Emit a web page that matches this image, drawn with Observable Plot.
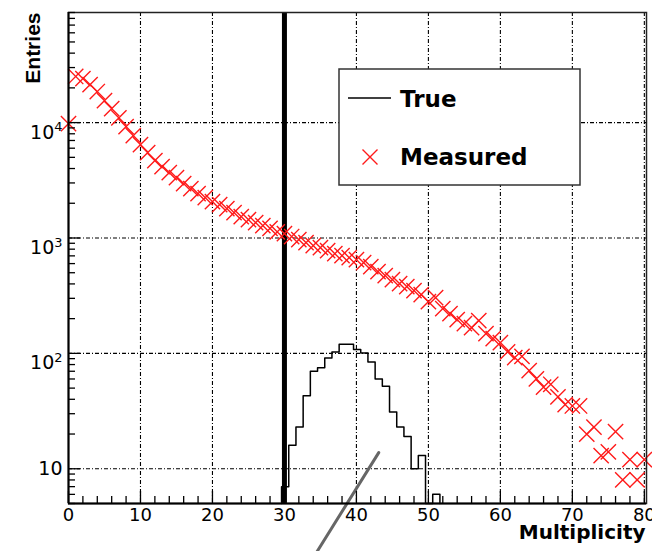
<!DOCTYPE html>
<html>
<head>
<meta charset="utf-8">
<script src="https://cdn.jsdelivr.net/npm/d3@7"></script>
<script src="https://cdn.jsdelivr.net/npm/@observablehq/plot@0.6"></script>
<style>
  html, body { margin: 0; padding: 0; background: #fff; }
  #chart { position: relative; width: 652px; height: 551px; }
</style>
</head>
<body>
<div id="chart"></div>
<script>
// ---- Measured distribution (red crosses) ----
const measuredX = [
  0, 1, 2, 3, 4, 5, 6, 7, 8, 9,
  10, 11, 12, 13, 14, 15, 16, 17, 18, 19,
  20, 21, 22, 23, 24, 25, 26, 27, 28, 29,
  30, 31, 32, 33, 34, 35, 36, 37, 38, 39,
  40, 41, 42, 43, 44, 45, 46, 47, 48, 49,
  50, 51, 52, 53, 54, 55, 56, 57, 58, 59,
  60, 61, 62, 63, 64, 65, 66, 67, 68, 69,
  70, 71, 72, 73, 74, 75, 76, 77, 78, 79, 80
];
const measuredY = [
  9800, 25100, 24100, 21300, 18600, 15500, 13200, 11000, 9230, 7710,
  6440, 5490, 4680, 4150, 3680, 3330, 2960, 2680, 2420, 2240,
  2070, 1950, 1800, 1660, 1530, 1440, 1360, 1280, 1210, 1130,
  1090, 1030, 968, 912, 858, 824, 776, 731, 703, 675,
  649, 611, 564, 511, 471, 435, 402, 379, 350, 323,
  281, 304, 244, 221, 196, 181, 167, 192, 148, 134,
  124, 103, 92, 94, 71, 60, 51, 54, 42, 36,
  35, 35, 20, 23, 13, 14, 21, 8, 12, 8, 12
];

// ---- True distribution (black histogram) ----
const trueBinLow = [
  29.6, 30.6, 31.6, 32.6, 33.6, 34.6, 35.6, 36.6, 37.6, 38.6, 39.6,
  40.6, 41.6, 42.6, 43.6, 44.6, 45.6, 46.6, 47.6, 48.6, 49.6, 50.6
];
const trueCounts = [
  7, 16, 23, 43, 70, 75, 91, 103, 120, 120, 108,
  101, 84, 60, 52, 31, 23, 19, 10, 13, 0, 6
];
const trueSpike = [30];   // the off-scale bin at multiplicity 30

// ---- annotation pointer (grey stroke at the bottom) ----
const pointerX = [34.5, 43.1];
const pointerY = [1.9, 13.8];

// ---- axes ----
const xTicks = [0, 10, 20, 30, 40, 50, 60, 70, 80];
const xGridTicks = [10, 20, 30, 40, 50, 60, 70, 80];
const xMinorTicks = [2, 4, 6, 8, 12, 14, 16, 18, 22, 24, 26, 28, 32, 34, 36, 38,
  42, 44, 46, 48, 52, 54, 56, 58, 62, 64, 66, 68, 72, 74, 76, 78];
const yTicks = [10, 100, 1000, 10000];
const yTickLabels = ["10", "10^2", "10^3", "10^4"];
const yMinorTicks = [5, 6, 7, 8, 9,
  20, 30, 40, 50, 60, 70, 80, 90,
  200, 300, 400, 500, 600, 700, 800, 900,
  2000, 3000, 4000, 5000, 6000, 7000, 8000, 9000,
  20000, 30000, 40000, 50000, 60000, 70000, 80000, 90000];
const xLabel = "Multiplicity";
const yLabel = "Entries";
const legendLabels = ["True", "Measured"];

// ---- build tables ----
const measured = measuredX.map((x, i) => ({x, y: measuredY[i]}));
const yMin = 5;
const trueOutline = [{x: trueBinLow[0], y: yMin}];
trueBinLow.forEach((lo, i) => {
  const v = Math.max(trueCounts[i], yMin);
  trueOutline.push({x: lo, y: v}, {x: lo + 1, y: v});
});
trueOutline.push({x: trueBinLow[trueBinLow.length - 1] + 1, y: yMin});
const pointer = pointerX.map((x, i) => ({x, y: pointerY[i]}));

const dash = "4,2,1,2";
const FONT = "DejaVu Sans";
const RED = "#ff1a1a";
const noText = () => "";

const chart = Plot.plot({
  width: 652,
  height: 551,
  marginLeft: 68,
  marginRight: 6,
  marginTop: 12,
  marginBottom: 48,
  x: {domain: [0, 80.3], label: null},
  y: {type: "log", domain: [yMin, 90000], label: null},
  style: {fontFamily: FONT, fontSize: "19px", color: "black", background: "white"},
  marks: [
    Plot.gridX(xGridTicks, {stroke: "black", strokeOpacity: 1, strokeWidth: 1.1, strokeDasharray: dash}),
    Plot.gridY(yTicks, {stroke: "black", strokeOpacity: 1, strokeWidth: 1.1, strokeDasharray: dash}),
    Plot.line(trueOutline, {x: "x", y: "y", stroke: "black", strokeWidth: 1.5}),
    Plot.ruleX(trueSpike, {stroke: "black", strokeWidth: 5}),
    Plot.dot(measured, {x: "x", y: "y", symbol: "times", r: 7, stroke: RED, strokeWidth: 1.4}),
    Plot.line(pointer, {x: "x", y: "y", stroke: "#666", strokeWidth: 3}),
    Plot.frame({stroke: "#222", strokeWidth: 1.5}),
    Plot.ruleX([0], {stroke: "black", strokeWidth: 2}),
    Plot.ruleY([yMin], {stroke: "black", strokeWidth: 2}),
    Plot.axisX(xMinorTicks, {anchor: "bottom", tickSize: -7, tickFormat: noText, strokeWidth: 1.3, label: null}),
    Plot.axisX(xTicks, {anchor: "bottom", tickSize: -12, tickFormat: noText, strokeWidth: 1.3, label: null}),
    Plot.axisX(xTicks, {anchor: "bottom", tickSize: 0, tickPadding: 5, fontSize: 18, fontFamily: FONT, label: null}),
    Plot.axisY(yMinorTicks, {anchor: "left", tickSize: -7, tickFormat: noText, strokeWidth: 1.3, label: null}),
    Plot.axisY(yTicks, {anchor: "left", tickSize: -12, tickFormat: noText, strokeWidth: 1.3, label: null}),
    Plot.axisY(yTicks, {anchor: "left", tickSize: 0, tickPadding: 6, fontSize: 19, fontFamily: FONT, label: null,
      tickFormat: d => yTickLabels[yTicks.indexOf(d)]}),
    Plot.text([yLabel], {frameAnchor: "top-left", text: d => d, rotate: -90, textAnchor: "end",
      dx: -43, fontWeight: "bold", fontSize: 21, fontFamily: "Liberation Sans", fill: "black"}),
    Plot.text([xLabel], {frameAnchor: "bottom-right", text: d => d, textAnchor: "end",
      dx: -1, dy: 35, fontWeight: "bold", fontSize: 20, fontFamily: FONT, fill: "black"})
  ]
});

const svg = d3.select(chart);

// ---- y tick labels: power-of-ten exponents as superscripts ----
svg.selectAll("text").each(function() {
  const t = this.textContent;
  if (t.indexOf("^") < 0) return;
  const [base, exp] = t.split("^");
  const s = d3.select(this);
  s.text(null).attr("dy", "0.52em");
  s.append("tspan").text(base);
  s.append("tspan").attr("dy", "-0.55em").attr("font-size", "0.68em").text(exp);
});

// ---- legend box drawn inside the plot area ----
const lg = svg.append("g").attr("font-family", FONT).attr("font-weight", "bold")
  .attr("font-size", 23).attr("text-anchor", "start");
lg.append("rect").attr("x", 339).attr("y", 69).attr("width", 241).attr("height", 116)
  .attr("fill", "white").attr("stroke", "#333").attr("stroke-width", 1.5);
lg.append("line").attr("x1", 348).attr("x2", 391).attr("y1", 98).attr("y2", 98)
  .attr("stroke", "black").attr("stroke-width", 1.5);
lg.append("text").attr("x", 400).attr("y", 107).attr("fill", "black").text(legendLabels[0]);
lg.append("path").attr("d", "M362.5,149.5L377.5,164.5M362.5,164.5L377.5,149.5")
  .attr("stroke", RED).attr("stroke-width", 1.4).attr("fill", "none");
lg.append("text").attr("x", 400).attr("y", 165).attr("fill", "black").text(legendLabels[1]);

document.getElementById("chart").appendChild(chart);
</script>
</body>
</html>
